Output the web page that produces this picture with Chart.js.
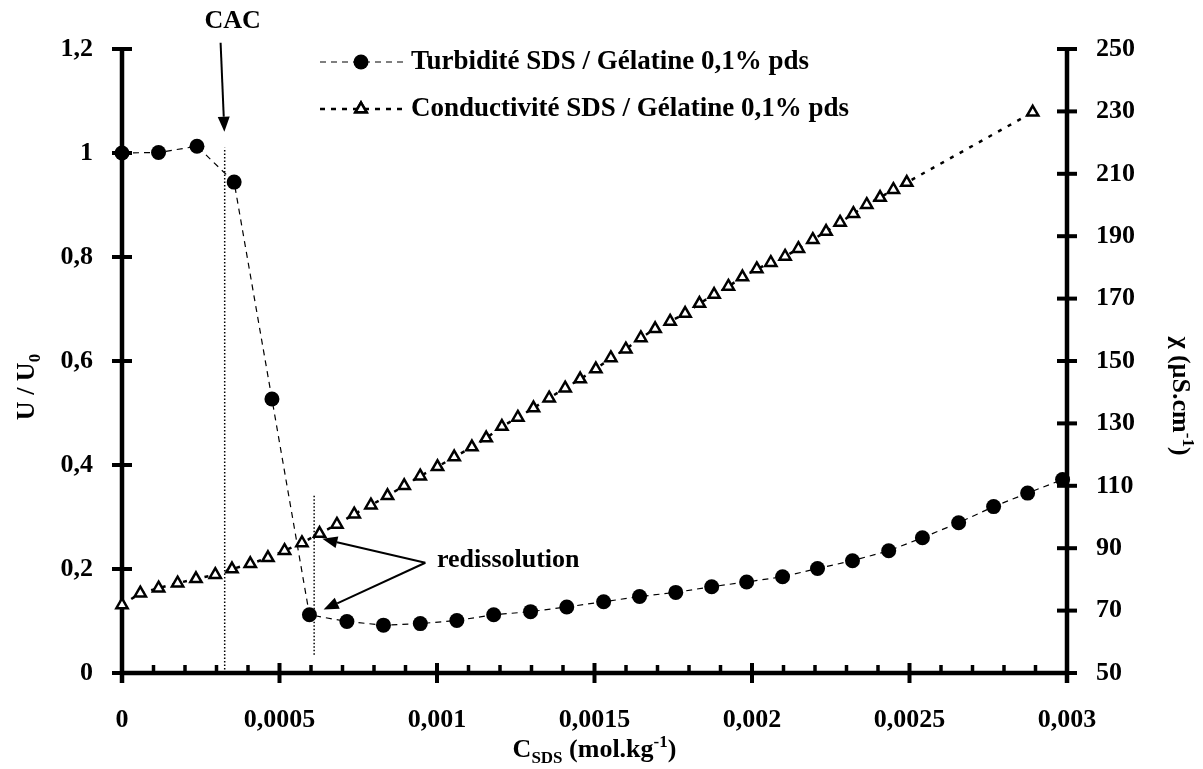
<!DOCTYPE html>
<html>
<head>
<meta charset="utf-8">
<script src="https://cdn.jsdelivr.net/npm/chart.js@4.4.1/dist/chart.umd.min.js"></script>
<style>
html,body{margin:0;padding:0;background:#fff;}
#wrap{position:relative;width:1203px;height:769px;}
</style>
</head>
<body>
<div id="wrap"><canvas id="c"></canvas></div>
<script>
// ---- data ----
const turbX = [0, 0.000116, 0.000238, 0.000356, 0.000476, 0.000595, 0.000714, 0.00083, 0.000947, 0.001063, 0.00118, 0.001297, 0.001412, 0.001529, 0.001643, 0.001758, 0.001872, 0.001983, 0.002097, 0.002208, 0.002319, 0.002434, 0.002541, 0.002656, 0.002767, 0.002875, 0.002986];
const turbY = [1.0, 1.001, 1.013, 0.944, 0.527, 0.112, 0.099, 0.092, 0.095, 0.101, 0.112, 0.118, 0.127, 0.137, 0.147, 0.155, 0.166, 0.175, 0.185, 0.201, 0.216, 0.235, 0.260, 0.289, 0.320, 0.346, 0.372];
const condX = [0, 0.0000581, 0.0001162, 0.0001765, 0.0002348, 0.0002961, 0.0003491, 0.0004072, 0.0004633, 0.000516, 0.0005712, 0.0006271, 0.0006823, 0.0007372, 0.0007902, 0.0008429, 0.0008959, 0.0009467, 0.0010016, 0.0010546, 0.0011108, 0.0011562, 0.001206, 0.0012567, 0.0013063, 0.0013561, 0.0014069, 0.0014545, 0.0015043, 0.0015519, 0.0015995, 0.0016471, 0.0016925, 0.0017401, 0.0017877, 0.0018331, 0.0018797, 0.0019251, 0.0019696, 0.0020152, 0.0020597, 0.002105, 0.0021473, 0.002193, 0.0022352, 0.0022796, 0.0023218, 0.0023643, 0.0024066, 0.0024488, 0.0024913, 0.0028911];
const condY = [71.8, 75.6, 77.2, 78.8, 80.2, 81.5, 83.3, 85.0, 86.9, 89.2, 91.7, 94.7, 97.6, 100.9, 103.8, 106.8, 110.0, 113.1, 116.1, 119.2, 122.4, 125.3, 129.0, 131.9, 134.9, 138.1, 141.3, 144.2, 147.4, 151.0, 153.8, 157.4, 160.3, 162.7, 165.2, 168.4, 171.3, 173.9, 176.9, 179.5, 181.5, 183.5, 186.0, 188.9, 191.5, 194.4, 197.2, 200.1, 202.4, 204.9, 207.2, 229.7];
const xTicks = [0, 0.0005, 0.001, 0.0015, 0.002, 0.0025, 0.003];
const uTicks = [0, 0.2, 0.4, 0.6, 0.8, 1, 1.2];
const chiTicks = [50, 70, 90, 110, 130, 150, 170, 190, 210, 230, 250];
const seriesNames = ['Turbidité SDS / Gélatine 0,1% pds', 'Conductivité SDS / Gélatine 0,1% pds'];

// annotation anchors (data coordinates)
const cacX = 0.000326, cacTop = 1.01;
const redisX = 0.00061, redisLow = 0.035, redisHigh = 0.343;
const cacArrow = {x0: 0.000313, y0: 1.212, x1: 0.000325, y1: 1.041};
const cacLabel = {x: 0.000351, y: 1.253, text: 'CAC'};
const redisLabel = {x: 0.0010, y: 0.216, text: 'redissolution'};
const redisArrowFrom = {x: 0.000963, y: 0.212};
const redisArrowTo = [{x: 0.000636, y: 0.258}, {x: 0.00064, y: 0.122}];

const FONT = '"Liberation Serif", "Times New Roman", serif';
const FS = 26;
const FL = 27;
const fmt = v => String(+v.toFixed(6)).replace('.', ',');

function arrow(ctx, x0, y0, x1, y1, head, wid) {
  const a = Math.atan2(y1 - y0, x1 - x0);
  const bx = x1 - head * Math.cos(a), by = y1 - head * Math.sin(a);
  ctx.beginPath(); ctx.moveTo(x0, y0); ctx.lineTo(bx, by); ctx.stroke();
  ctx.beginPath();
  ctx.moveTo(x1, y1);
  ctx.lineTo(bx + wid * Math.sin(a), by - wid * Math.cos(a));
  ctx.lineTo(bx - wid * Math.sin(a), by + wid * Math.cos(a));
  ctx.closePath(); ctx.fill();
}

function richText(ctx, parts, cx, cy, size) {
  let total = 0;
  const m = parts.map(([t, k]) => {
    const s = k === 'n' ? size : Math.round(size * 0.66);
    ctx.font = 'bold ' + s + 'px ' + FONT;
    const w = ctx.measureText(t).width;
    total += w;
    return {t, k, s, w};
  });
  let x = cx - total / 2;
  ctx.textBaseline = 'alphabetic'; ctx.textAlign = 'left';
  m.forEach(p => {
    ctx.font = 'bold ' + p.s + 'px ' + FONT;
    const dy = p.k === 'sub' ? size * 0.22 : p.k === 'sup' ? -size * 0.38 : 0;
    ctx.fillText(p.t, x, cy + dy);
    x += p.w;
  });
}

const axesPlugin = {
  id: 'axesPlugin',
  beforeDatasetsDraw(chart) {
    const {ctx, chartArea: a, scales: {x, y, y1}} = chart;
    ctx.save();
    ctx.strokeStyle = '#000'; ctx.fillStyle = '#000';
    ctx.lineWidth = 1.5; ctx.setLineDash([1.5, 2]);
    const cx = x.getPixelForValue(cacX);
    ctx.beginPath(); ctx.moveTo(cx, y.getPixelForValue(0)); ctx.lineTo(cx, y.getPixelForValue(cacTop)); ctx.stroke();
    const rx = x.getPixelForValue(redisX);
    ctx.beginPath(); ctx.moveTo(rx, y.getPixelForValue(redisLow)); ctx.lineTo(rx, y.getPixelForValue(redisHigh)); ctx.stroke();
    ctx.setLineDash([]);
    ctx.lineWidth = 4.5; ctx.lineCap = 'butt';
    ctx.beginPath(); ctx.moveTo(a.left - 2, a.bottom); ctx.lineTo(a.right + 2, a.bottom); ctx.stroke();
    ctx.beginPath(); ctx.moveTo(a.left, y.getPixelForValue(1.2) - 2); ctx.lineTo(a.left, a.bottom + 10); ctx.stroke();
    ctx.beginPath(); ctx.moveTo(a.right, y1.getPixelForValue(250) - 2); ctx.lineTo(a.right, a.bottom + 10); ctx.stroke();
    ctx.lineWidth = 4;
    uTicks.forEach(v => { const p = y.getPixelForValue(v); ctx.beginPath(); ctx.moveTo(a.left - 10, p); ctx.lineTo(a.left + 10, p); ctx.stroke(); });
    chiTicks.forEach(v => { const p = y1.getPixelForValue(v); ctx.beginPath(); ctx.moveTo(a.right - 10, p); ctx.lineTo(a.right + 10, p); ctx.stroke(); });
    xTicks.forEach(v => { const p = x.getPixelForValue(v); ctx.beginPath(); ctx.moveTo(p, a.bottom - 10); ctx.lineTo(p, a.bottom + 10); ctx.stroke(); });
    ctx.lineWidth = 3.5;
    for (let i = 1; i < 30; i++) {
      if (i % 5 === 0) continue;
      const p = x.getPixelForValue(i * 0.0001);
      ctx.beginPath(); ctx.moveTo(p, a.bottom - 8); ctx.lineTo(p, a.bottom); ctx.stroke();
    }
    ctx.restore();
  },
  afterDraw(chart) {
    const {ctx, chartArea: a, scales: {x, y}} = chart;
    ctx.save();
    ctx.fillStyle = '#000'; ctx.strokeStyle = '#000';
    ctx.lineWidth = 2;
    arrow(ctx, x.getPixelForValue(cacArrow.x0), y.getPixelForValue(cacArrow.y0), x.getPixelForValue(cacArrow.x1), y.getPixelForValue(cacArrow.y1), 15, 6);
    ctx.font = 'bold ' + FS + 'px ' + FONT; ctx.textAlign = 'center'; ctx.textBaseline = 'middle';
    ctx.fillText(cacLabel.text, x.getPixelForValue(cacLabel.x), y.getPixelForValue(cacLabel.y));
    const fx = x.getPixelForValue(redisArrowFrom.x), fy = y.getPixelForValue(redisArrowFrom.y);
    redisArrowTo.forEach(t => arrow(ctx, fx, fy, x.getPixelForValue(t.x), y.getPixelForValue(t.y), 15, 6));
    ctx.textAlign = 'left';
    ctx.fillText(redisLabel.text, x.getPixelForValue(redisLabel.x), y.getPixelForValue(redisLabel.y));
    // legend
    const rows = [{y: 62, ds: 0}, {y: 109, ds: 1}];
    rows.forEach(r => {
      ctx.save();
      if (r.ds === 0) { ctx.lineWidth = 1.2; ctx.setLineDash([6, 5]); }
      else { ctx.lineWidth = 2.5; ctx.setLineDash([5, 6]); }
      ctx.beginPath(); ctx.moveTo(320, r.y); ctx.lineTo(405, r.y); ctx.stroke();
      ctx.setLineDash([]);
      if (r.ds === 0) {
        ctx.beginPath(); ctx.arc(361, r.y, 7.5, 0, Math.PI * 2); ctx.fill();
      } else {
        ctx.fillStyle = '#fff'; ctx.lineWidth = 2.5;
        Chart.helpers.drawPoint(ctx, {pointStyle: 'triangle', radius: 6.5, rotation: 0, borderWidth: 2.5}, 361, r.y);
        ctx.fill(); ctx.stroke();
        ctx.fillStyle = '#000';
      }
      ctx.restore();
      ctx.font = 'bold ' + FL + 'px ' + FONT; ctx.textAlign = 'left'; ctx.textBaseline = 'middle';
      ctx.fillText(seriesNames[r.ds], 411, r.y);
    });
    // axis titles
    richText(ctx, [['C', 'n'], ['SDS', 'sub'], [' (mol.kg', 'n'], ['-1', 'sup'], [')', 'n']], (a.left + a.right) / 2, 757, FS);
    ctx.save(); ctx.translate(34, 387); ctx.rotate(-Math.PI / 2);
    richText(ctx, [['U / U', 'n'], ['0', 'sub']], 0, 0, FS);
    ctx.restore();
    ctx.save(); ctx.translate(1173, 396); ctx.rotate(Math.PI / 2);
    richText(ctx, [['χ (µS.cm', 'n'], ['-1', 'sup'], [')', 'n']], 0, 0, FS);
    ctx.restore();
    ctx.restore();
  }
};

const tickFont = {family: FONT, size: FS, weight: 'bold'};

new Chart(document.getElementById('c'), {
  type: 'line',
  data: {
    datasets: [
      {
        label: seriesNames[0],
        data: turbX.map((v, i) => ({x: v, y: turbY[i]})),
        yAxisID: 'y',
        borderColor: '#000', borderWidth: 1.2, borderDash: [6, 5],
        pointStyle: 'circle', pointRadius: 7.5, pointBackgroundColor: '#000', pointBorderWidth: 0,
        fill: false, tension: 0, clip: false
      },
      {
        label: seriesNames[1],
        data: condX.map((v, i) => ({x: v, y: condY[i]})),
        yAxisID: 'y1',
        borderColor: '#000', borderWidth: 2.5, borderDash: [4, 7],
        pointStyle: 'triangle', pointRadius: 6.5, pointBackgroundColor: '#fff', pointBorderColor: '#000', pointBorderWidth: 2.5,
        fill: false, tension: 0, clip: false
      }
    ]
  },
  options: {
    responsive: true, maintainAspectRatio: false, animation: false,
    layout: {padding: {top: 49, left: 0, right: 0, bottom: 0}},
    plugins: {legend: {display: false}, tooltip: {enabled: false}},
    scales: {
      x: {
        type: 'linear', min: 0, max: 0.003,
        afterBuildTicks: s => { s.ticks = xTicks.map(v => ({value: v})); },
        afterFit: s => { s.height = 96; },
        grid: {display: false}, border: {display: false},
        ticks: {font: tickFont, color: '#000', padding: 24, maxRotation: 0, callback: v => fmt(v)}
      },
      y: {
        type: 'linear', position: 'left', min: 0, max: 1.2,
        afterBuildTicks: s => { s.ticks = uTicks.map(v => ({value: v})); },
        afterFit: s => { s.width = 122; },
        grid: {display: false}, border: {display: false},
        ticks: {font: tickFont, color: '#000', padding: 21, callback: v => fmt(v)}
      },
      y1: {
        type: 'linear', position: 'right', min: 50, max: 250,
        afterBuildTicks: s => { s.ticks = chiTicks.map(v => ({value: v})); },
        afterFit: s => { s.width = 136; },
        grid: {display: false}, border: {display: false},
        ticks: {font: tickFont, color: '#000', padding: 21, callback: v => String(v)}
      }
    }
  },
  plugins: [axesPlugin]
});
</script>
</body>
</html>
